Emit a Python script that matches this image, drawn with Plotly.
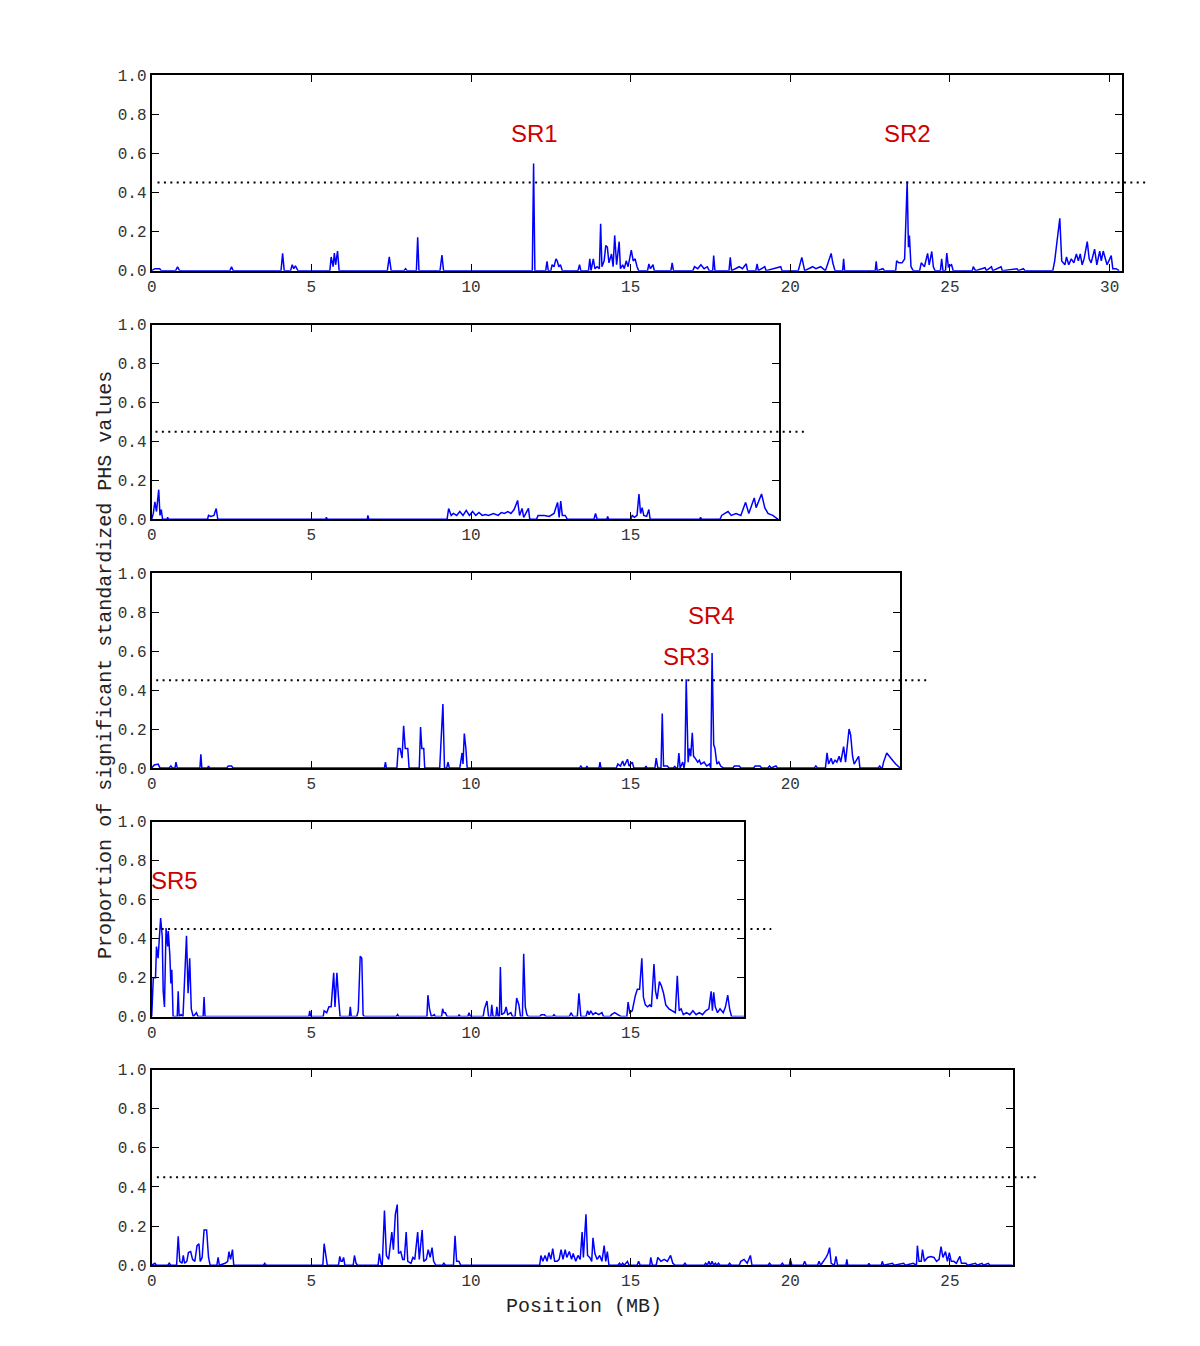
import plotly.graph_objects as go

# ---------------- data ----------------
p1_x = [0, 0.1, 0.25, 0.3, 0.75, 0.81, 0.87, 2.45, 2.5, 2.55, 4.05, 4.1, 4.15, 4.35, 4.4, 4.45, 4.5, 4.58,
        5.58, 5.62, 5.68, 5.72, 5.76, 5.82, 5.87, 7.38, 7.44, 7.5, 7.9, 7.95, 8.0, 8.29, 8.33, 8.37,
        9.03, 9.09, 9.14, 11.92, 11.96, 12.0, 12.34, 12.38, 12.42, 12.5, 12.54, 12.6, 12.66, 12.7, 12.75,
        12.8, 12.86, 13.35, 13.4, 13.44, 13.68, 13.72, 13.76, 13.83, 13.88, 13.95, 14.02, 14.06, 14.1,
        14.17, 14.22, 14.27, 14.32, 14.4, 14.45, 14.5, 14.56, 14.64, 14.68, 14.75, 14.8, 14.86, 14.92,
        15.02, 15.08, 15.14, 15.2, 15.25, 15.53, 15.57, 15.62, 15.7, 15.74, 16.26, 16.3, 16.34, 16.95,
        17.0, 17.1, 17.2, 17.3, 17.4, 17.46, 17.57, 17.6, 17.64, 18.08, 18.12, 18.16, 18.3, 18.4, 18.5,
        18.62, 18.66, 18.92, 18.96, 19.0, 19.2, 19.24, 19.7, 19.74, 20.25, 20.36, 20.45, 20.7, 20.8,
        20.95, 21.1, 21.2, 21.28, 21.33, 21.4, 21.64, 21.67, 21.7, 22.66, 22.69, 22.72, 22.9, 22.95,
        23.3, 23.33, 23.4, 23.5, 23.58, 23.66, 23.7, 23.73, 23.78, 23.85, 24.05, 24.1, 24.2, 24.3, 24.35,
        24.43, 24.48, 24.53, 24.7, 24.74, 24.78, 24.86, 24.9, 24.95, 25.05, 25.1, 25.7, 25.73, 25.8,
        26.1, 26.14, 26.3, 26.34, 26.6, 26.64, 27.1, 27.14, 27.3, 27.35, 28.22, 28.28, 28.44, 28.5, 28.6,
        28.65, 28.72, 28.8, 28.88, 28.96, 29.02, 29.08, 29.14, 29.2, 29.3, 29.36, 29.42, 29.53, 29.6,
        29.69, 29.74, 29.8, 29.86, 29.92, 30.05, 30.1, 30.2, 30.3]
p1_y = [0, 0.01, 0.01, 0, 0, 0.02, 0, 0, 0.02, 0, 0, 0.088, 0, 0, 0.03, 0.01, 0.025, 0,
        0, 0.07, 0.02, 0.09, 0.03, 0.1, 0, 0, 0.07, 0, 0, 0.01, 0, 0, 0.17, 0,
        0, 0.08, 0, 0, 0.547, 0, 0, 0.047, 0, 0, 0.03, 0.02, 0.06, 0.05, 0.02,
        0.03, 0, 0, 0.03, 0, 0, 0.06, 0, 0.06, 0.01, 0.02, 0.01, 0.24, 0.02,
        0.05, 0.128, 0.12, 0.04, 0.085, 0.02, 0.18, 0.03, 0.148, 0.01, 0.03, 0.01, 0.05, 0.02,
        0.105, 0.05, 0.06, 0.02, 0, 0, 0.034, 0.01, 0.03, 0, 0, 0.04, 0, 0,
        0.02, 0.01, 0.03, 0.01, 0.02, 0, 0, 0.077, 0, 0, 0.068, 0, 0.01, 0.02, 0.01,
        0.035, 0, 0, 0.035, 0, 0.02, 0, 0.02, 0, 0, 0.068, 0, 0.02, 0.01,
        0.02, 0, 0.05, 0.088, 0.04, 0, 0, 0.06, 0, 0, 0.047, 0, 0.01, 0,
        0, 0.05, 0.04, 0.04, 0.06, 0.456, 0.12, 0.18, 0.02, 0, 0, 0.04, 0.02, 0.088, 0.03,
        0.098, 0.02, 0, 0, 0.06, 0, 0, 0.09, 0.02, 0.03, 0, 0, 0.02, 0,
        0.015, 0, 0.02, 0, 0.02, 0, 0.01, 0, 0.01, 0, 0, 0.05, 0.267, 0.05, 0.03,
        0.07, 0.03, 0.06, 0.04, 0.085, 0.05, 0.085, 0.03, 0.06, 0.148, 0.06, 0.04, 0.11, 0.03,
        0.1, 0.05, 0.1, 0.07, 0.03, 0.077, 0.01, 0.01, 0]

p2_x = [0, 0.05, 0.1, 0.15, 0.22, 0.26, 0.3, 0.34, 0.48, 0.5, 0.52, 1.75, 1.78, 1.85, 1.95, 2.02, 2.07,
        5.45, 5.47, 5.5, 6.75, 6.77, 6.8, 9.25, 9.3, 9.38, 9.45, 9.55, 9.65, 9.75, 9.85, 9.95, 10.05,
        10.15, 10.25, 10.35, 10.45, 10.55, 10.7, 10.85, 10.95, 11.05, 11.15, 11.25, 11.35, 11.46, 11.52,
        11.6, 11.65, 11.8, 11.84, 12.05, 12.1, 12.3, 12.45, 12.6, 12.71, 12.76, 12.81, 12.86, 12.95,
        13.02, 13.85, 13.9, 13.95, 14.25, 14.28, 14.31, 15.0, 15.05, 15.12, 15.2, 15.26, 15.31, 15.36,
        15.41, 15.5, 15.57, 15.61, 17.16, 17.19, 17.22, 17.8, 17.85, 17.95, 18.05, 18.15, 18.3, 18.45,
        18.6, 18.7, 18.87, 18.93, 19.1, 19.2, 19.3, 19.45, 19.62]
p2_y = [0, 0.03, 0.089, 0.04, 0.152, 0.02, 0.05, 0, 0, 0.01, 0, 0, 0.02, 0.015, 0.02, 0.055, 0,
        0, 0.01, 0, 0, 0.02, 0, 0, 0.055, 0.02, 0.03, 0.02, 0.04, 0.02, 0.046, 0.02, 0.04,
        0.02, 0.035, 0.02, 0.025, 0.02, 0.03, 0.02, 0.035, 0.03, 0.04, 0.03, 0.05, 0.097, 0.02,
        0.056, 0.01, 0.056, 0, 0, 0.02, 0.02, 0.015, 0.03, 0.087, 0.01, 0.093, 0.02, 0.02,
        0, 0, 0.03, 0, 0, 0.015, 0, 0, 0.02, 0.01, 0.02, 0.13, 0.03, 0.06,
        0.02, 0.015, 0.05, 0, 0, 0.01, 0, 0, 0.02, 0.03, 0.04, 0.02, 0.03, 0.02,
        0.087, 0.03, 0.11, 0.06, 0.13, 0.06, 0.03, 0.02, 0]

p3_x = [0, 0.08, 0.2, 0.26, 0.55, 0.6, 0.65, 0.73, 0.76, 0.8, 1.51, 1.54, 1.57, 1.75, 1.78, 1.81, 2.35,
        2.4, 2.5, 2.55, 7.29, 7.32, 7.35, 7.68, 7.72, 7.78, 7.84, 7.89, 7.94, 8.02, 8.06, 8.38, 8.42,
        8.46, 8.52, 8.55, 9.02, 9.06, 9.12, 9.17, 9.24, 9.28, 9.32, 9.65, 9.68, 9.72, 9.75, 9.79, 9.84,
        9.88, 13.4, 13.44, 13.48, 13.6, 13.63, 13.66, 14.01, 14.04, 14.07, 14.55, 14.6, 14.68, 14.75,
        14.8, 14.9, 14.95, 15.05, 15.1, 15.45, 15.48, 15.51, 15.76, 15.8, 15.85, 15.95, 15.99, 16.03,
        16.15, 16.2, 16.35, 16.38, 16.41, 16.47, 16.51, 16.55, 16.63, 16.67, 16.7, 16.74, 16.77, 16.8,
        16.84, 16.88, 16.93, 16.97, 17.02, 17.1, 17.15, 17.2, 17.3, 17.38, 17.47, 17.51, 17.55, 17.6,
        17.64, 17.7, 17.76, 17.82, 17.9, 18.2, 18.25, 18.4, 18.45, 18.85, 18.9, 19.05, 19.1, 19.3,
        19.35, 19.4, 19.55, 19.6, 20.75, 20.8, 20.85, 21.1, 21.15, 21.2, 21.28, 21.33, 21.4, 21.46,
        21.53, 21.58, 21.67, 21.73, 21.84, 21.89, 21.95, 22.0, 22.14, 22.18, 22.75, 22.8, 22.84,
        22.88, 22.92, 23.02, 23.15, 23.3, 23.44]
p3_y = [0, 0.015, 0.02, 0, 0, 0.01, 0, 0, 0.03, 0, 0, 0.07, 0, 0, 0.01, 0, 0,
        0.01, 0.01, 0, 0, 0.03, 0, 0, 0.1, 0.1, 0.05, 0.217, 0.1, 0.1, 0, 0, 0.21,
        0.1, 0.1, 0, 0, 0.11, 0.328, 0, 0, 0.03, 0, 0, 0.04, 0.077, 0.02, 0.177, 0.1,
        0, 0, 0.01, 0, 0, 0.01, 0, 0, 0.03, 0, 0, 0.02, 0.01, 0.036,
        0.01, 0.045, 0.01, 0.03, 0, 0, 0.01, 0, 0, 0.05, 0, 0, 0.28, 0.01,
        0.01, 0, 0, 0.01, 0, 0, 0.077, 0, 0.03, 0, 0.03, 0.456, 0.17, 0.03,
        0.1, 0.06, 0.18, 0.06, 0.05, 0.03, 0.04, 0.02, 0.03, 0.01, 0.02, 0, 0.59, 0.12,
        0.1, 0.02, 0.03, 0.01, 0, 0, 0.01, 0.01, 0, 0, 0.01, 0.01, 0, 0,
        0.01, 0, 0.01, 0, 0, 0.01, 0, 0, 0.077, 0.02, 0.05, 0.02, 0.04, 0.03,
        0.06, 0.03, 0.11, 0.03, 0.2, 0.17, 0.06, 0.02, 0.06, 0, 0, 0.01, 0,
        0, 0.03, 0.077, 0.05, 0.02, 0]

p4_x = [0, 0.05, 0.12, 0.15, 0.2, 0.28, 0.33, 0.36, 0.4, 0.45, 0.5, 0.52, 0.57, 0.6, 0.63, 0.67, 0.8,
        0.83, 0.86, 0.92, 0.98, 1.02, 1.09, 1.14, 1.19, 1.24, 1.3, 1.4, 1.45, 1.61, 1.64, 1.67, 4.92,
        4.95, 4.98, 5.37, 5.4, 5.48, 5.55, 5.62, 5.7, 5.74, 5.8, 5.85, 5.9, 6.19, 6.22, 6.25, 6.42,
        6.47, 6.53, 6.58, 6.62, 6.66, 7.66, 7.7, 7.74, 8.62, 8.65, 8.7, 8.76, 8.85, 8.88, 9.08, 9.11,
        9.15, 9.2, 9.25, 9.6, 9.63, 9.66, 9.9, 9.94, 9.98, 10.38, 10.42, 10.5, 10.55, 10.62, 10.65,
        10.69, 10.78, 10.81, 10.85, 10.89, 10.92, 10.96, 11.05, 11.1, 11.15, 11.25, 11.3, 11.38, 11.43,
        11.5, 11.55, 11.61, 11.65, 11.7, 11.75, 11.8, 12.15, 12.2, 12.3, 12.35, 12.55, 12.6, 12.65,
        13.08, 13.13, 13.2, 13.33, 13.38, 13.44, 13.6, 13.65, 13.7, 13.75, 13.82, 13.9, 14.0, 14.1,
        14.15, 14.35, 14.4, 14.5, 14.6, 14.7, 14.88, 14.92, 14.97, 15.05, 15.15, 15.21, 15.28, 15.35,
        15.4, 15.46, 15.53, 15.6, 15.65, 15.73, 15.78, 15.83, 15.9, 15.96, 16.03, 16.1, 16.2, 16.3,
        16.4, 16.46, 16.52, 16.58, 16.65, 16.75, 16.85, 16.95, 17.05, 17.15, 17.25, 17.35, 17.45,
        17.52, 17.56, 17.6, 17.65, 17.72, 17.8, 17.9, 17.97, 18.04, 18.1, 18.16, 18.56]
p4_y = [0, 0.2, 0.2, 0.36, 0.3, 0.506, 0.41, 0.13, 0.05, 0.455, 0.36, 0.44, 0.31, 0.17, 0.24, 0, 0,
        0.13, 0, 0.01, 0, 0.17, 0.415, 0.12, 0.3, 0.04, 0, 0.02, 0, 0, 0.1, 0, 0,
        0.03, 0, 0, 0.03, 0.02, 0.05, 0.05, 0.225, 0.05, 0.225, 0.1, 0, 0, 0.05, 0, 0,
        0.03, 0.31, 0.3, 0.01, 0, 0, 0.01, 0, 0, 0.11, 0.04, 0, 0.01, 0, 0, 0.04,
        0.02, 0.02, 0, 0, 0.01, 0, 0, 0.02, 0, 0, 0.04, 0.08, 0, 0, 0.06,
        0, 0, 0.05, 0, 0, 0.255, 0.01, 0.02, 0.05, 0.01, 0.02, 0, 0, 0.095,
        0.06, 0, 0, 0.323, 0.05, 0.01, 0, 0, 0.01, 0.01, 0, 0, 0.01, 0,
        0, 0.02, 0, 0, 0.12, 0, 0, 0.03, 0.01, 0.03, 0.01, 0.02, 0.01, 0.02,
        0, 0, 0.01, 0.02, 0.01, 0, 0, 0.075, 0.02, 0.03, 0.11, 0.14, 0.14, 0.3,
        0.1, 0.06, 0.05, 0.06, 0.05, 0.27, 0.13, 0.09, 0.18, 0.16, 0.12, 0.06, 0.04, 0.03,
        0.02, 0.21, 0.03, 0.04, 0.01, 0.02, 0.01, 0.03, 0.01, 0.02, 0.01, 0.03, 0.04,
        0.13, 0.03, 0.125, 0.05, 0.02, 0.04, 0.02, 0.05, 0.11, 0.04, 0, 0]

p5_x = [0, 0.1, 0.15, 0.5, 0.55, 0.6, 0.78, 0.83, 0.88, 0.95, 0.99, 1.03, 1.1, 1.15, 1.22, 1.28, 1.35,
        1.42, 1.48, 1.52, 1.58, 1.64, 1.72, 1.78, 1.83, 2.04, 2.08, 2.12, 2.3, 2.38, 2.42, 2.47, 2.53,
        2.57, 3.5, 3.54, 3.58, 5.36, 5.4, 5.46, 5.5, 5.85, 5.89, 5.93, 5.97, 6.01, 6.05, 6.31, 6.35,
        6.4, 6.45, 7.09, 7.13, 7.18, 7.22, 7.29, 7.35, 7.42, 7.52, 7.57, 7.63, 7.69, 7.73, 7.8, 7.86,
        7.91, 7.97, 8.02, 8.12, 8.18, 8.24, 8.33, 8.38, 8.47, 8.52, 8.6, 8.66, 8.72, 8.78, 8.83, 8.9,
        9.1, 9.15, 9.2, 9.45, 9.5, 9.55, 9.62, 9.68, 12.15, 12.19, 12.25, 12.32, 12.38, 12.44, 12.5,
        12.56, 12.62, 12.7, 12.76, 12.82, 12.88, 12.95, 13.0, 13.08, 13.15, 13.2, 13.28, 13.35, 13.42,
        13.48, 13.52, 13.6, 13.65, 13.72, 13.78, 13.82, 13.88, 13.95, 14.03, 14.1, 14.17, 14.22, 14.27,
        14.32, 14.6, 14.65, 14.7, 14.75, 14.8, 14.9, 14.95, 15.2, 15.25, 15.3, 15.6, 15.63, 15.68, 15.8,
        15.85, 15.95, 16.05, 16.15, 16.25, 16.32, 16.4, 16.65, 16.7, 16.75, 17.3, 17.35, 17.4, 17.45,
        17.5, 17.55, 17.6, 17.65, 17.7, 17.75, 17.8, 18.05, 18.1, 18.15, 18.4, 18.45, 18.55, 18.65,
        18.75, 18.8, 19.3, 19.35, 19.4, 19.7, 19.75, 19.8, 19.97, 20.0, 20.05, 20.4, 20.45, 20.5,
        20.85, 20.9, 20.95, 21.04, 21.12, 21.18, 21.23, 21.28, 21.38, 21.43, 21.48, 21.74, 21.77, 21.8,
        22.43, 22.46, 22.5, 22.85, 22.88, 22.92, 23.2, 23.25, 23.55, 23.6, 23.85, 23.95, 23.98, 24.03,
        24.1, 24.14, 24.2, 24.3, 24.4, 24.5, 24.58, 24.66, 24.72, 24.78, 24.86, 24.92, 24.98, 25.04,
        25.12, 25.2, 25.31, 25.36, 25.5, 25.55, 25.8, 25.85, 26.0, 26.05, 26.2, 26.25, 26.96]
p5_y = [0, 0.01, 0, 0, 0.01, 0, 0, 0.148, 0.02, 0.01, 0.05, 0.01, 0.02, 0.065, 0.07, 0.03, 0.02,
        0.1, 0.11, 0.02, 0.04, 0.18, 0.18, 0.04, 0, 0, 0.04, 0, 0.01, 0.02, 0.07, 0.03, 0.08,
        0, 0, 0.01, 0, 0, 0.11, 0.03, 0, 0, 0.045, 0.02, 0.02, 0.04, 0, 0, 0.05,
        0.01, 0, 0, 0.06, 0.01, 0, 0.28, 0.05, 0.03, 0.17, 0.08, 0.26, 0.31, 0.06, 0.07, 0.03,
        0.03, 0.17, 0.02, 0.01, 0.04, 0.03, 0.17, 0.03, 0.18, 0.02, 0.03, 0.08, 0.04, 0.09, 0.02, 0,
        0, 0.01, 0, 0, 0.15, 0.02, 0.02, 0, 0, 0.05, 0.02, 0.05, 0.02, 0.065, 0.03,
        0.085, 0.02, 0.02, 0.03, 0.08, 0.03, 0.08, 0.04, 0.07, 0.03, 0.06, 0.02, 0.05, 0.03,
        0.17, 0.04, 0.26, 0.05, 0.04, 0.02, 0.14, 0.06, 0.03, 0.05, 0.02, 0.1, 0.02, 0.07,
        0, 0, 0.01, 0, 0.01, 0, 0.02, 0, 0, 0.02, 0, 0, 0.04, 0, 0,
        0.04, 0.02, 0.03, 0.02, 0.05, 0.01, 0, 0, 0.01, 0, 0, 0.01, 0, 0.02,
        0, 0.02, 0, 0.01, 0, 0.01, 0, 0, 0.01, 0, 0, 0.02, 0.03, 0.01,
        0.05, 0, 0, 0.01, 0, 0, 0.01, 0, 0, 0.03, 0, 0, 0.02, 0,
        0, 0.02, 0, 0.02, 0.04, 0.06, 0.09, 0.01, 0, 0.045, 0, 0, 0.03, 0,
        0, 0.01, 0, 0, 0.02, 0, 0.01, 0, 0.01, 0, 0.01, 0, 0.1, 0.02,
        0.02, 0.08, 0.02, 0.04, 0.045, 0.04, 0.02, 0.03, 0.095, 0.04, 0.07, 0.02, 0.065, 0.02,
        0.02, 0.01, 0.045, 0.01, 0.01, 0, 0.01, 0, 0.01, 0, 0.01, 0, 0]

panel_xs = [p1_x, p2_x, p3_x, p4_x, p5_x]
panel_ys = [p1_y, p2_y, p3_y, p4_y, p5_y]
panel_xmax = [30.4, 19.66, 23.44, 18.56, 26.96]
threshold = 0.45

labels = [  # (panel index, text, x, y)
    (0, "SR1", 12.0, 0.70),
    (0, "SR2", 23.66, 0.70),
    (2, "SR3", 16.75, 0.574),
    (2, "SR4", 17.53, 0.785),
    (3, "SR5", 0.72, 0.70),
]

y_ticks = [0.0, 0.2, 0.4, 0.6, 0.8, 1.0]
y_tick_text = ["0.0", "0.2", "0.4", "0.6", "0.8", "1.0"]
x_ticks = [0, 5, 10, 15, 20, 25, 30]

# ---------------- layout geometry (target pixels) ----------------
W, H = 1200, 1346
left_px = 150
px_per_unit = 32.0
panel_tops = [74, 324, 573, 822, 1070]
panel_bottoms = [270, 519, 768, 1017, 1266]
dotted_ext_px = 27

# compensation for the page offset/scale observed in the rendered screenshot
OFF_X, OFF_Y, SC_X, SC_Y = 11.0, 14.0, 0.998, 0.988


def px_to_paper_x(px):
    return (px - OFF_X) / SC_X / W


def px_to_paper_y(py):
    return 1 - (py - OFF_Y) / SC_Y / H


fig = go.Figure()
mono = "Liberation Mono, Courier New, monospace"

for i in range(5):
    ax = "" if i == 0 else str(i + 1)
    fig.add_trace(go.Scatter(
        x=panel_xs[i], y=panel_ys[i], mode="lines",
        line=dict(color="#0000ff", width=1.5),
        xaxis="x" + ax, yaxis="y" + ax, showlegend=False, hoverinfo="skip"))
    right_px = left_px + panel_xmax[i] * px_per_unit
    xdom = [px_to_paper_x(left_px), px_to_paper_x(right_px)]
    ydom = [px_to_paper_y(panel_bottoms[i]), px_to_paper_y(panel_tops[i])]
    common = dict(showline=True, linecolor="black", linewidth=2, mirror="ticks",
                  ticks="inside", ticklen=7, tickwidth=1, tickcolor="black",
                  showgrid=False, zeroline=False,
                  tickfont=dict(family=mono, size=16, color="#333333"))
    fig.layout["xaxis" + ax] = dict(domain=xdom, range=[0, panel_xmax[i]], tickvals=x_ticks,
                                    anchor="y" + ax, **common)
    fig.layout["yaxis" + ax] = dict(domain=ydom, range=[0, 1.0], tickvals=y_ticks,
                                    ticktext=y_tick_text, anchor="x" + ax, **common)
    # threshold dotted line, extending slightly past the right frame
    width_px = panel_xmax[i] * px_per_unit
    fig.add_shape(type="line", xref="x" + ax + " domain", yref="y" + ax + " domain",
                  x0=0.006, x1=1 + dotted_ext_px / width_px, y0=threshold, y1=threshold,
                  line=dict(color="black", width=2, dash="2px,4.4px"))

for (pi, txt, xv, yv) in labels:
    ax = "" if pi == 0 else str(pi + 1)
    fig.add_annotation(x=xv, y=yv, xref="x" + ax, yref="y" + ax, text=txt, showarrow=False,
                       xanchor="center", yanchor="middle",
                       font=dict(family="Liberation Sans, Arial, sans-serif", size=24,
                                 color="#cc0000"))

fig.add_annotation(x=px_to_paper_x(103), y=px_to_paper_y(665), xref="paper", yref="paper",
                   xanchor="center", yanchor="middle",
                   text="Proportion of significant standardized PHS values", textangle=-90,
                   showarrow=False, font=dict(family=mono, size=20, color="#222222"))
fig.add_annotation(x=px_to_paper_x(583), y=px_to_paper_y(1307), xref="paper", yref="paper",
                   xanchor="center", yanchor="middle",
                   text="Position (MB)", showarrow=False,
                   font=dict(family=mono, size=20, color="#222222"))

fig.update_layout(width=W, height=H, margin=dict(l=0, r=0, t=0, b=0),
                  paper_bgcolor="white", plot_bgcolor="white")

fig.write_html("out.html")
